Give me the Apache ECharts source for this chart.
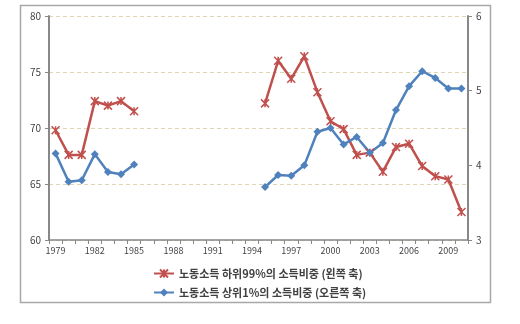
<!DOCTYPE html>
<html><head><meta charset="utf-8">
<script src="https://cdn.jsdelivr.net/npm/echarts@6/dist/echarts.min.js"></script>
<style>html,body{margin:0;padding:0;background:#fff}#c{width:520px;height:324px}</style>
</head><body><div id="c"></div>
<script>
var years = [];
for (var y = 1979; y <= 2010; y++) years.push(String(y));
var lower99 = [69.8,67.6,67.6,72.4,72.0,72.4,71.5,null,null,null,null,null,null,null,null,null,
  72.2,76.0,74.4,76.4,73.2,70.6,69.9,67.6,67.8,66.1,68.3,68.6,66.6,65.7,65.4,62.5];
var top1 = [4.16,3.78,3.80,4.15,3.91,3.88,4.01,null,null,null,null,null,null,null,null,null,
  3.71,3.87,3.86,4.00,4.45,4.50,4.28,4.38,4.17,4.30,4.74,5.06,5.26,5.17,5.03,5.03];
var name1 = '노동소득 하위99%의 소득비중 (왼쪽 축)';
var name2 = '노동소득 상위1%의 소득비중 (오른쪽 축)';
var font = '"Noto Sans CJK KR", "Noto Sans", sans-serif';
var chart = echarts.init(document.getElementById('c'));
chart.setOption({
  animation: false,
  graphic: [{type:'rect', shape:{x:20.5,y:5.5,width:470,height:297}, style:{fill:'none', stroke:'#a8a8a8', lineWidth:1.5}, silent:true}],
  grid: {left:49, right:52, top:16, bottom:84},
  legend: {
    orient:'vertical', left:148, top:263, itemGap:8, itemWidth:20, itemHeight:10,
    textStyle:{fontFamily:font, fontSize:11, fontWeight:'bold', color:'#404040'},
    data:[name1, name2]
  },
  xAxis: {
    type:'category', data:years, boundaryGap:true,
    axisLine:{lineStyle:{color:'#888', width:1.5}},
    axisTick:{show:true, interval:0, length:4, lineStyle:{color:'#888'}},
    axisLabel:{interval:2, fontSize:9, color:'#444', fontFamily:font, margin:6}
  },
  yAxis: [{
    type:'value', min:60, max:80, interval:5, position:'left',
    axisLine:{show:true, lineStyle:{color:'#888', width:2}},
    axisTick:{show:true, length:4, lineStyle:{color:'#888'}},
    axisLabel:{fontSize:10, color:'#444', fontFamily:font, margin:8},
    splitLine:{show:true, lineStyle:{color:'#ddd6b0', type:[4,3], width:1}}
  },{
    type:'value', min:3, max:6, interval:1, position:'right',
    axisLine:{show:true, lineStyle:{color:'#888', width:2}},
    axisTick:{show:true, length:4, lineStyle:{color:'#888'}},
    axisLabel:{fontSize:10, color:'#444', fontFamily:font, margin:8},
    splitLine:{show:false}
  }],
  series: [{
    name:name1, type:'line', yAxisIndex:0, data:lower99, connectNulls:false,
    symbol:'path://M0,0L10,10M10,0L0,10M5,0L5,10', symbolSize:8,
    lineStyle:{color:'#C0504D', width:2.5},
    itemStyle:{color:'#C0504D', borderColor:'#C0504D', borderWidth:1.5}
  },{
    name:name2, type:'line', yAxisIndex:1, data:top1, connectNulls:false,
    symbol:'diamond', symbolSize:8,
    lineStyle:{color:'#4F81BD', width:2.5},
    itemStyle:{color:'#4F81BD'}
  }]
});
</script></body></html>
